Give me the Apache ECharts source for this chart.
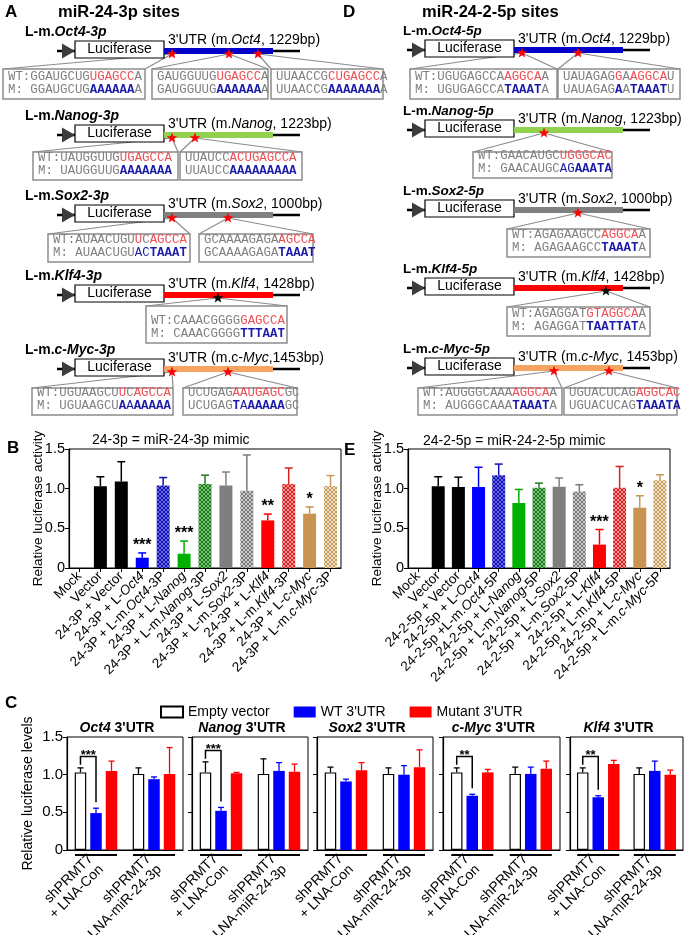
<!DOCTYPE html>
<html>
<head>
<meta charset="utf-8">
<script src="https://cdn.jsdelivr.net/npm/echarts@6/dist/echarts.min.js"></script>
<style>
html, body { margin: 0; padding: 0; background: #fff; }
#chart { width: 687px; height: 935px; }
</style>
</head>
<body>
<div id="chart"></div>
<script>
// ---- data: panels B / E (luciferase activity) ----
const catsB = ['Mock', 'Vector', '24-3P + Vector', '24-3P + L-Oct4', '24-3P + L-m.Oct4-3P', '24-3P + L-Nanog', '24-3P + L-m.Nanog-3P', '24-3P + L-Sox2', '24-3P + L-m.Sox2-3P', '24-3P + L-Klf4', '24-3P + L-m.Klf4-3P', '24-3P + L-c-Myc', '24-3P + L-m.c-Myc-3P']
const valsB = [0, 1.03, 1.09, 0.13, 1.04, 0.18, 1.06, 1.04, 0.975, 0.60, 1.06, 0.685, 1.035]
const errB = [0, 0.12, 0.25, 0.06, 0.10, 0.16, 0.11, 0.17, 0.45, 0.08, 0.20, 0.085, 0.13]
const sigB = ['', '', '', '***', '', '***', '', '', '', '**', '', '*', '']

const catsE = ['Mock', 'Vector', '24-2-5p + Vector', '24-2-5p + L-Oct4', '24-2-5p +L-m.Oct4-5P', '24-2-5p + L-Nanog', '24-2-5p + L-m.Nanog-5P', '24-2-5p + L-Sox2', '24-2-5p + L-m.Sox2-5P', '24-2-5p + L-Klf4', '24-2-5p + L-m.Klf4-5P', '24-2-5p + L-c-Myc', '24-2-5p + L-m.c-Myc-5P']
const valsE = [0, 1.03, 1.02, 1.02, 1.17, 0.82, 1.01, 1.025, 0.965, 0.295, 1.01, 0.76, 1.105]
const errE = [0, 0.12, 0.125, 0.25, 0.14, 0.17, 0.06, 0.11, 0.085, 0.19, 0.27, 0.15, 0.07]
const sigE = ['', '', '', '', '', '', '', '', '', '***', '', '*', '']

const yTicks = [0, 0.5, 1.0, 1.5]

// ---- data: panel C ----
const groupsC = ['shPRMT7\n+ LNA-Con', 'shPRMT7\n+ LNA-miR-24-3p']
const genesC = ['Oct4', 'Nanog', 'Sox2', 'c-Myc', 'Klf4']
const emptyC = [[1.03, 1.01], [1.03, 1.01], [1.03, 1.01], [1.03, 1.01], [1.03, 1.01]]
const emptyErrC = [[0.06, 0.08], [0.14, 0.2], [0.07, 0.08], [0.06, 0.09], [0.06, 0.08]]
const wtC = [[0.49, 0.94], [0.52, 1.05], [0.91, 1.0], [0.72, 1.01], [0.70, 1.05]]
const wtErrC = [[0.065, 0.03], [0.045, 0.11], [0.03, 0.12], [0.02, 0.09], [0.02, 0.13]]
const mutC = [[1.05, 1.01], [1.02, 1.04], [1.06, 1.10], [1.03, 1.08], [1.14, 1.0]]
const mutErrC = [[0.13, 0.35], [0.01, 0.1], [0.1, 0.23], [0.04, 0.1], [0.05, 0.06]]
const sigC = ['***', '***', '', '**', '**']

// ---- data: construct schematics (A / D) ----
const labelsA = ['Oct4-3p', 'Nanog-3p', 'Sox2-3p', 'Klf4-3p', 'c-Myc-3p']
const labelsD = ['Oct4-5p', 'Nanog-5p', 'Sox2-5p', 'Klf4-5p', 'c-Myc-5p']
const utrA = ["3'UTR (m.{i|Oct4}, 1229bp)", "3'UTR (m.{i|Nanog}, 1223bp)", "3'UTR (m.{i|Sox2}, 1000bp)", "3'UTR (m.{i|Klf4}, 1428bp)", "3'UTR (m.c-{i|Myc},1453bp)"]
const utrD = ["3'UTR (m.{i|Oct4}, 1229bp)", "3'UTR (m.{i|Nanog}, 1223bp)", "3'UTR (m.{i|Sox2}, 1000bp)", "3'UTR (m.{i|Klf4}, 1428bp)", "3'UTR (m.{i|c-Myc}, 1453bp)"]
const utrLen = [1229, 1223, 1000, 1428, 1453]
const sitesA = [[90, 733, 1060], [90, 348], [73, 587], [707], [107, 853]]
const sitesD = [[90, 722], [337], [587], [1205], [533, 1266]]
const seqA = [
    [['WT:GGAUGCUG[r:UGAGCC]A', 'M: GGAUGCUG[b:AAAAAA]A'], ['GAUGGUUG[r:UGAGCC]A', 'GAUGGUUG[b:AAAAAA]A'], ['UUAACCG[r:CUGAGCC]A', 'UUAACCG[b:AAAAAAA]A']],
    [['WT:UAUGGUUG[r:UGAGCCA]', 'M: UAUGGUUG[b:AAAAAAA]'], ['UUAUCC[r:ACUGAGCCA]', 'UUAUCC[b:AAAAAAAAA]']],
    [['WT:AUAACUGU[r:U]C[r:AGCCA]', 'M: AUAACUGU[n:AC][b:TAAAT]'], ['GCAAAAGAGA[r:AGCCA]', 'GCAAAAGAGA[b:TAAAT]']],
    [['WT:CAAACGGGG[r:GAGCCA]', 'M: CAAACGGGG[b:TTTAAT]']],
    [['WT:UGUAAGCU[r:U]C[r:AGCCA]', 'M: UGUAAGCU[b:A][n:A][b:AAAAA]'], ['UCUGAG[r:AAUGAGC]GC', 'UCUGAG[b:T][n:A][b:AAAAA]GC']]
]
const seqD = [
    [['WT:UGUGAGCCA[r:AGGCA]A', 'M: UGUGAGCCA[b:TAAAT]A'], ['UAUAGAG[r:G]A[r:AGGCA]U', 'UAUAGAG[b:A]A[b:TAAAT]U']],
    [['WT:GAACAUGC[r:UGGGCAC]', 'M: GAACAUGC[n:AG][b:AAATA]']],
    [['WT:AGAGAAGCC[r:AGGCA]A', 'M: AGAGAAGCC[b:TAAAT]A']],
    [['WT:AGAGGAT[r:GTAGGCA]A', 'M: AGAGGAT[b:TAATTAT]A']],
    [['WT:AUGGGCAAA[r:AGGCA]A', 'M: AUGGGCAAA[b:TAAAT]A'], ['UGUACUCAG[r:AGGCAC]', 'UGUACUCAG[b:TAAATA]']]
]

// ---- styles / layout ----
const FONT = 'Liberation Sans, Arial, sans-serif'
const MONO = 'Liberation Mono, Courier New, monospace'
const barCol = ['#000', '#000', '#000', '#0000ff', ['#1010b0', '#6a6ae0'], '#00b000', ['#1f7a1f', '#74c074'], '#7f7f7f', ['#7a7a7a', '#c8c8c8'], '#ff0000', ['#d81e1e', '#f59a9a'], '#c89450', ['#c49a5a', '#f2e2c8']]
const utrCol = ['#0000c8', '#92d050', '#808080', '#ff0000', '#f5a462']
const starCol = ['#ff0000', '#ff0000', '#ff0000', '#000', '#ff0000']
const layA = {L: 57, labelX: 25, labelSize: 14, rows: [
    {bar: 51, top: 69, bot: 99, boxes: [[3, 145], [152, 268], [271, 383]]},
    {bar: 135, top: 152, bot: 180, boxes: [[33, 178], [180, 302]]},
    {bar: 215, top: 234, bot: 262, boxes: [[48, 190], [199, 313]]},
    {bar: 295, top: 306, bot: 343, boxes: [[146, 287]]},
    {bar: 369, top: 388, bot: 415, boxes: [[32, 173], [183, 297]]}
]}
const layD = {L: 407, labelX: 403, labelSize: 13.5, rows: [
    {bar: 50, top: 69, bot: 99, boxes: [[410, 557], [558, 680]]},
    {bar: 130, top: 152, bot: 178, boxes: [[473, 612]]},
    {bar: 210, top: 229, bot: 257, boxes: [[507, 650]]},
    {bar: 288, top: 307, bot: 336, boxes: [[507, 650]]},
    {bar: 368, top: 388, bot: 415, boxes: [[418, 562], [564, 677]]}
]}
const gridsC = [[67, 116], [192, 116], [317, 116], [443, 117], [570, 113]]

function hatch(c) {
    if (!Array.isArray(c)) return c
    const cv = document.createElement('canvas')
    cv.width = cv.height = 4
    const g = cv.getContext('2d')
    g.fillStyle = c[1]
    g.fillRect(0, 0, 4, 4)
    g.fillStyle = c[0]
    for (let i = 0; i < 4; i++) {
        g.fillRect(i, i, 1, 1)
        g.fillRect(i, 3 - i, 1, 1)
    }
    return {image: cv, repeat: 'repeat'}
}
const baseCol = c => Array.isArray(c) ? c[0] : c

function T(x, y, text, o) {
    return {type: 'text', x: x, y: y, silent: true, style: Object.assign({
        text: text, fill: '#000', fontFamily: FONT, fontSize: 14,
        align: 'left', verticalAlign: 'middle'
    }, o || {})}
}
function L(x1, y1, x2, y2, c, w) {
    return {type: 'line', silent: true, shape: {x1, y1, x2, y2}, style: {stroke: c, lineWidth: w}}
}
function R(x, y, w, h, fill, stroke, lw) {
    return {type: 'rect', silent: true, shape: {x, y, width: w, height: h}, style: {fill: fill, stroke: stroke || null, lineWidth: lw || 0}}
}
function starPts(cx, cy, R1, r1) {
    const p = []
    for (let k = 0; k < 10; k++) {
        const a = -Math.PI / 2 + k * Math.PI / 5, rr = k % 2 ? r1 : R1
        p.push([cx + rr * Math.cos(a), cy + rr * Math.sin(a)])
    }
    return p
}
function seqRich(s) {
    let out = '', m
    const re = /\[(r|b|n):([^\]]+)\]|([^\[]+)/g
    while ((m = re.exec(s))) out += m[3] ? '{g|' + m[3] + '}' : '{' + m[1] + '|' + m[2] + '}'
    return out
}
const seqStyle = {
    g: {fill: '#808080', fontFamily: MONO, fontSize: 12.4},
    r: {fill: '#ee4f55', fontFamily: MONO, fontSize: 12.4},
    b: {fill: '#1a1aa8', fontFamily: MONO, fontSize: 12.4, fontWeight: 'bold'},
    n: {fill: '#1a1aa8', fontFamily: MONO, fontSize: 12.4}
}

function panel(lay, labels, utr, sites, seqs) {
    const els = [], stars = []
    lay.rows.forEach((r, i) => {
        const x0 = lay.L, y = r.bar, u0 = x0 + 107, uw = 109
        els.push(T(lay.labelX, y - 19, '{n|L-m.}{i|' + labels[i] + '}', {rich: {
            n: {fontFamily: FONT, fontSize: lay.labelSize, fontWeight: 'bold'},
            i: {fontFamily: FONT, fontSize: lay.labelSize, fontWeight: 'bold', fontStyle: 'italic'}
        }}))
        sites[i].forEach((bp, j) => {
            const sx = u0 + bp / utrLen[i] * uw, b = r.boxes[j]
            els.push(L(sx, y + 3, b[0], r.top, '#8c8c8c', 1.2))
            els.push(L(sx, y + 3, b[1], r.top, '#8c8c8c', 1.2))
            els.push(R(b[0], r.top, b[1] - b[0], r.bot - r.top, '#fff', '#8c8c8c', 1.5))
            els.push(T(b[0] + 5, r.bot - 22, seqRich(seqs[i][j][0]), {rich: seqStyle}))
            els.push(T(b[0] + 5, r.bot - 9, seqRich(seqs[i][j][1]), {rich: seqStyle}))
            stars.push({type: 'polygon', silent: true, shape: {points: starPts(sx, y + 3, 5.5, 2.3)}, style: {fill: starCol[i]}})
        })
        els.push(L(x0, y, x0 + 243, y, '#000', 2.5))
        els.push({type: 'polygon', silent: true, shape: {points: [[x0 + 5, y - 7.5], [x0 + 18, y], [x0 + 5, y + 7.5]]}, style: {fill: '#3c3c3c'}})
        els.push(R(x0 + 18, y - 10, 89, 17, '#fff', '#000', 1.2))
        els.push(T(x0 + 62.5, y - 1.5, 'Luciferase', {align: 'center'}))
        els.push(R(u0, y - 3, uw, 6, utrCol[i]))
        els.push(T(u0 + 4, y - 4, utr[i], {verticalAlign: 'bottom', rich: {i: {fontFamily: FONT, fontSize: 14, fontStyle: 'italic'}}}))
    })
    return els.concat(stars)
}

const graphics = [].concat(
    panel(layA, labelsA, utrA, sitesA, seqA),
    panel(layD, labelsD, utrD, sitesD, seqD),
    [
        T(5, 12, 'A', {fontSize: 17, fontWeight: 'bold'}),
        T(58, 12, 'miR-24-3p sites', {fontSize: 16.5, fontWeight: 'bold'}),
        T(343, 12, 'D', {fontSize: 17, fontWeight: 'bold'}),
        T(422, 12, 'miR-24-2-5p sites', {fontSize: 16.5, fontWeight: 'bold'}),
        T(7, 448, 'B', {fontSize: 17, fontWeight: 'bold'}),
        T(344, 450, 'E', {fontSize: 17, fontWeight: 'bold'}),
        T(5, 703, 'C', {fontSize: 17, fontWeight: 'bold'}),
        T(92, 440, '24-3p = miR-24-3p mimic'),
        T(423, 441, '24-2-5p = miR-24-2-5p mimic')
    ],
    genesC.map((g, i) => T(gridsC[i][0] + gridsC[i][1] / 2 - 8, 728, '{i|' + g + "} 3'UTR", {
        align: 'center', fontWeight: 'bold',
        rich: {i: {fontFamily: FONT, fontSize: 14, fontWeight: 'bold', fontStyle: 'italic'}}
    }))
)

const ital = v => v.replace(/(Oct4|Nanog|Sox2|Klf4|c-Myc)/, '{i|$1}')
const tickFmt = v => v === 0 ? '0' : v.toFixed(1)

function valueAxis(gi, name, nameGap, showLabel) {
    return {
        gridIndex: gi, type: 'value', min: yTicks[0], max: yTicks[yTicks.length - 1], interval: 0.5,
        name: name, nameLocation: 'middle', nameGap: nameGap, nameMoveOverlap: false,
        nameTextStyle: {fontSize: gi > 1 ? 14 : 13.5, color: '#000', fontFamily: FONT},
        axisLine: {show: true, lineStyle: {color: '#000', width: 1.2}},
        axisTick: {show: true, length: 4, lineStyle: {color: '#000'}},
        splitLine: {show: false},
        axisLabel: {show: showLabel, fontSize: gi > 1 ? 15 : 14.5, color: '#000', margin: 4, formatter: tickFmt}
    }
}
function catAxisBE(gi, cats) {
    return {
        gridIndex: gi, type: 'category', data: cats,
        axisLine: {lineStyle: {color: '#000', width: 1.2}},
        axisTick: {show: true, alignWithLabel: true, length: 4, lineStyle: {color: '#000'}},
        axisLabel: {interval: 0, rotate: 45, fontSize: 13.5, color: '#000', margin: 6, formatter: ital,
            rich: {i: {fontStyle: 'italic', fontSize: 13.5, color: '#000'}}}
    }
}

function errBars(gi, vals, errs, sigs) {
    return {
        type: 'custom', xAxisIndex: gi, yAxisIndex: gi, z: 5,
        data: vals.map((v, i) => [i, v + errs[i]]),
        renderItem(params, api) {
            const k = params.dataIndex
            const b = api.coord([k, vals[k]]), t = api.coord([k, vals[k] + errs[k]])
            const col = baseCol(barCol[k])
            const ch = []
            if (errs[k] > 0) {
                ch.push({type: 'line', shape: {x1: b[0], y1: b[1], x2: t[0], y2: t[1]}, style: {stroke: col, lineWidth: 1.5}})
                ch.push({type: 'line', shape: {x1: t[0] - 4, y1: t[1], x2: t[0] + 4, y2: t[1]}, style: {stroke: col, lineWidth: 1.5}})
            }
            if (sigs[k]) ch.push({type: 'text', x: t[0], y: t[1] + 1, style: {text: sigs[k], fill: '#000', fontFamily: FONT, fontSize: 16, fontWeight: 'bold', align: 'center', verticalAlign: 'bottom'}})
            return {type: 'group', children: ch}
        }
    }
}

const grids = [
    {left: 69, top: 449, width: 272, height: 119},
    {left: 408, top: 449, width: 262, height: 119}
].concat(gridsC.map(g => ({left: g[0], top: 737, width: g[1], height: 113})))
grids.forEach(g => Object.assign(g, {show: true, borderColor: '#000', borderWidth: 1, outerBoundsMode: 'none', containLabel: false}))

const xAxes = [catAxisBE(0, catsB), catAxisBE(1, catsE)]
const yAxes = [valueAxis(0, 'Relative luciferase activity', 24, true), valueAxis(1, 'Relative luciferase activity', 24, true)]
const series = [
    {type: 'bar', xAxisIndex: 0, yAxisIndex: 0, barWidth: 13, data: valsB.map((v, i) => ({value: v, itemStyle: {color: hatch(barCol[i])}}))},
    errBars(0, valsB, errB, sigB),
    {type: 'bar', xAxisIndex: 1, yAxisIndex: 1, barWidth: 13, data: valsE.map((v, i) => ({value: v, itemStyle: {color: hatch(barCol[i])}}))},
    errBars(1, valsE, errE, sigE)
]

const cCols = ['#000', '#0000ff', '#ff0000']
const BW = 11.5, STEP = BW * 1.35
genesC.forEach((g, gi) => {
    const ax = 2 + gi
    xAxes.push({
        gridIndex: ax, type: 'category', data: groupsC,
        axisLine: {lineStyle: {color: '#000', width: 1.2}},
        axisTick: {show: false},
        axisLabel: {interval: 0, rotate: 45, fontSize: 14, lineHeight: 15, color: '#000', margin: 12}
    })
    yAxes.push(valueAxis(ax, gi === 0 ? 'Relative luciferase levels' : '', 32, gi === 0))
    series.push(
        {type: 'bar', name: 'Empty vector', xAxisIndex: ax, yAxisIndex: ax, data: emptyC[gi], barWidth: BW, barGap: '35%', itemStyle: {color: '#fff', borderColor: '#000', borderWidth: 1.2}},
        {type: 'bar', name: "WT 3'UTR", xAxisIndex: ax, yAxisIndex: ax, data: wtC[gi], barWidth: BW, barGap: '35%', itemStyle: {color: '#0000ff'}},
        {type: 'bar', name: "Mutant 3'UTR", xAxisIndex: ax, yAxisIndex: ax, data: mutC[gi], barWidth: BW, barGap: '35%', itemStyle: {color: '#ff0000'}},
        {
            type: 'custom', xAxisIndex: ax, yAxisIndex: ax, z: 5,
            data: [[0, 0], [1, 0]],
            renderItem(params, api) {
                const c = params.dataIndex
                const vs = [emptyC[gi][c], wtC[gi][c], mutC[gi][c]]
                const es = [emptyErrC[gi][c], wtErrC[gi][c], mutErrC[gi][c]]
                const p0 = api.coord([c, 0])
                const ch = []
                for (let s = 0; s < 3; s++) {
                    const x = p0[0] + (s - 1) * STEP
                    const yb = api.coord([c, vs[s]])[1], yt = api.coord([c, vs[s] + es[s]])[1]
                    ch.push({type: 'line', shape: {x1: x, y1: yb, x2: x, y2: yt}, style: {stroke: cCols[s], lineWidth: 1.3}})
                    ch.push({type: 'line', shape: {x1: x - 3, y1: yt, x2: x + 3, y2: yt}, style: {stroke: cCols[s], lineWidth: 1.3}})
                }
                ch.push({type: 'line', shape: {x1: p0[0] - 21, y1: p0[1] + 5, x2: p0[0] + 21, y2: p0[1] + 5}, style: {stroke: '#000', lineWidth: 2.2}})
                if (c === 0 && sigC[gi]) {
                    const xw = p0[0] - STEP, xb = p0[0]
                    const top = vs[0] + es[0]
                    const yTop = api.coord([c, top + 0.15])[1]
                    const yL = api.coord([c, top + 0.04])[1]
                    const yR = api.coord([c, vs[1] + es[1] + 0.08])[1]
                    ch.push({type: 'polyline', shape: {points: [[xw, yL], [xw, yTop], [xb, yTop], [xb, yR]]}, style: {stroke: '#000', lineWidth: 1.5, fill: null}})
                    ch.push({type: 'text', x: (xw + xb) / 2, y: yTop + 5.5, style: {text: sigC[gi], fill: '#000', fontFamily: FONT, fontSize: 13, fontWeight: 'bold', align: 'center', verticalAlign: 'bottom'}})
                }
                return {type: 'group', children: ch}
            }
        }
    )
})

const chart = echarts.init(document.getElementById('chart'))
chart.setOption({
    animation: false,
    textStyle: {fontFamily: FONT},
    grid: grids,
    xAxis: xAxes,
    yAxis: yAxes,
    legend: {
        data: ['Empty vector', "WT 3'UTR", "Mutant 3'UTR"],
        left: 160, top: 705, padding: 0, itemWidth: 22, itemHeight: 11, itemGap: 24, icon: 'rect',
        selectedMode: false, textStyle: {fontSize: 14, color: '#000', fontFamily: FONT}
    },
    graphic: {elements: graphics},
    series: series
})
</script>
</body>
</html>
